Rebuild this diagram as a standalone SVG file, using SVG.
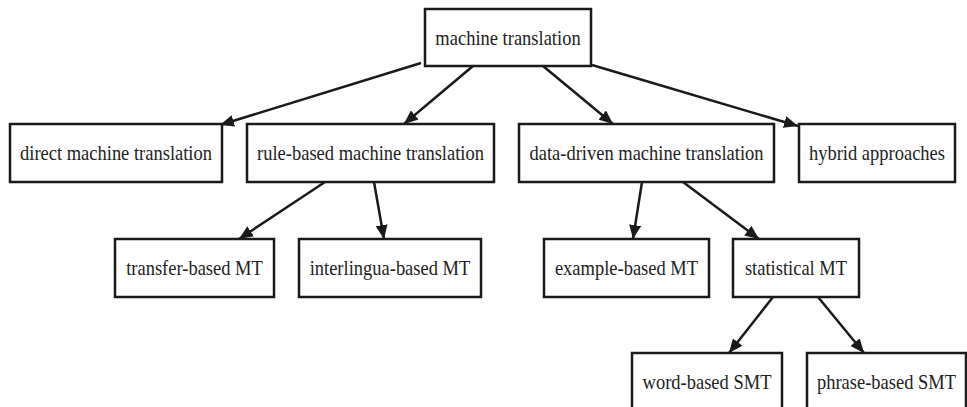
<svg xmlns="http://www.w3.org/2000/svg" width="967" height="407" viewBox="0 0 967 407">
<style>
.box{fill:#fff;stroke:#1a1a1a;stroke-width:2.5}
.lbl{font-family:"Liberation Serif","Times New Roman",serif;font-size:18.5px;fill:#222;text-anchor:middle;transform-box:fill-box;transform-origin:center;transform:scaleY(1.12)}
.edge{stroke:#1a1a1a;stroke-width:2.5;fill:none}
</style>
<defs>
<marker id="arr" markerUnits="userSpaceOnUse" markerWidth="15" markerHeight="12" refX="14" refY="6" orient="auto">
<path d="M0,0 L14,6 L0,12 z" fill="#1a1a1a"/>
</marker>
</defs>
<rect width="967" height="407" fill="#fff"/>
<g id="connectors">
<line class="edge" x1="421" y1="63" x2="220" y2="125" marker-end="url(#arr)"/>
<line class="edge" x1="473" y1="66" x2="404" y2="124" marker-end="url(#arr)"/>
<line class="edge" x1="543" y1="66" x2="613" y2="124" marker-end="url(#arr)"/>
<line class="edge" x1="592" y1="65" x2="798" y2="126" marker-end="url(#arr)"/>
<line class="edge" x1="325" y1="182" x2="239" y2="239" marker-end="url(#arr)"/>
<line class="edge" x1="374" y1="182" x2="384" y2="239" marker-end="url(#arr)"/>
<line class="edge" x1="642" y1="182" x2="633" y2="239" marker-end="url(#arr)"/>
<line class="edge" x1="683" y1="182" x2="759" y2="239" marker-end="url(#arr)"/>
<line class="edge" x1="773" y1="297" x2="729" y2="353" marker-end="url(#arr)"/>
<line class="edge" x1="818" y1="297" x2="864" y2="353" marker-end="url(#arr)"/>
</g>
<g id="n_root"><rect class="box" x="425" y="9" width="166" height="57"/><text class="lbl" x="508" y="44">machine translation</text></g>
<g id="n_direct"><rect class="box" x="10" y="124" width="212" height="58"/><text class="lbl" x="116" y="159">direct machine translation</text></g>
<g id="n_rule"><rect class="box" x="247" y="124" width="247" height="58"/><text class="lbl" x="370.5" y="159">rule-based machine translation</text></g>
<g id="n_data"><rect class="box" x="519" y="124" width="255" height="58"/><text class="lbl" x="646.5" y="159">data-driven machine translation</text></g>
<g id="n_hybrid"><rect class="box" x="799" y="124" width="156" height="58"/><text class="lbl" x="877" y="159">hybrid approaches</text></g>
<g id="n_transfer"><rect class="box" x="115" y="239" width="159" height="58"/><text class="lbl" x="194.5" y="274">transfer-based MT</text></g>
<g id="n_interlingua"><rect class="box" x="299" y="239" width="182" height="58"/><text class="lbl" x="390" y="274">interlingua-based MT</text></g>
<g id="n_example"><rect class="box" x="544" y="239" width="165" height="58"/><text class="lbl" x="626.5" y="274">example-based MT</text></g>
<g id="n_statistical"><rect class="box" x="733" y="239" width="126" height="58"/><text class="lbl" x="796" y="274">statistical MT</text></g>
<g id="n_word"><rect class="box" x="632" y="353" width="150" height="60"/><text class="lbl" x="707" y="388">word-based SMT</text></g>
<g id="n_phrase"><rect class="box" x="807" y="353" width="159" height="60"/><text class="lbl" x="886.5" y="388">phrase-based SMT</text></g>
</svg>
